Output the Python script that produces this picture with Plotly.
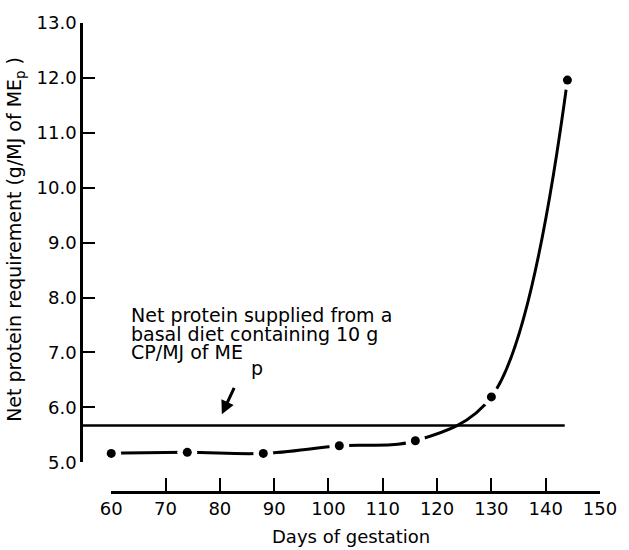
import plotly.graph_objects as go

# ---- data ----
days = [60, 74, 88, 102, 116, 130, 144]
requirement = [5.16, 5.18, 5.16, 5.30, 5.39, 6.19, 11.96]
supply_level = 5.67
supply_days = [54.8, 143.5]
x_ticks = [60, 70, 80, 90, 100, 110, 120, 130, 140, 150]
y_ticks = [5, 6, 7, 8, 9, 10, 11, 12, 13]
y_ticktext = ["5.0", "6.0", "7.0", "8.0", "9.0", "10.0", "11.0", "12.0", "13.0"]

W, H = 629, 550
ML, MR, MT, MB = 83, 21, 15, 58
PW, PH = W - ML - MR, H - MT - MB
X_MIN, X_MAX = 54.8, 150
FONT = "DejaVu Sans"


def px(xp):
    return (xp - ML) / PW


def py(yp):
    return (H - MB - yp) / PH


fig = go.Figure()
fig.add_trace(go.Scatter(x=days, y=requirement, mode="lines",
                         line=dict(color="black", width=3, shape="spline", smoothing=1.0),
                         xaxis="x", yaxis="y", hoverinfo="skip"))
fig.add_trace(go.Scatter(x=supply_days, y=[supply_level, supply_level], mode="lines",
                         line=dict(color="black", width=2.5), xaxis="x", yaxis="y"))
fig.add_trace(go.Scatter(x=days, y=requirement, mode="markers",
                         marker=dict(color="white", size=20), cliponaxis=False,
                         xaxis="x2", yaxis="y", hoverinfo="skip"))
fig.add_trace(go.Scatter(x=days, y=requirement, mode="markers",
                         marker=dict(color="black", size=9), cliponaxis=False,
                         xaxis="x2", yaxis="y"))

y_dom0 = py(461.7)
x2_dom0 = (60 - X_MIN) / (X_MAX - X_MIN)

fig.update_layout(
    width=W, height=H, showlegend=False,
    margin=dict(l=ML, r=MR, t=MT, b=MB),
    paper_bgcolor="white", plot_bgcolor="rgba(0,0,0,0)",
    font=dict(family=FONT, size=18, color="black"),
    xaxis=dict(domain=[0, 1], range=[X_MIN, X_MAX], visible=False, anchor="y"),
    xaxis2=dict(domain=[x2_dom0, 1], range=[60, 150], anchor="free", position=0,
                showline=True, linewidth=2.5, linecolor="black",
                ticks="inside", ticklen=13, tickwidth=2, tickcolor="black",
                tickvals=x_ticks, showgrid=False, zeroline=False,
                tickfont=dict(family=FONT, size=18)),
    yaxis=dict(domain=[y_dom0, 1], range=[5, 13], anchor="x",
               showline=True, linewidth=2.5, linecolor="black",
               ticks="inside", ticklen=12, tickwidth=2, tickcolor="black",
               tickvals=y_ticks, ticktext=y_ticktext, showgrid=False, zeroline=False,
               tickfont=dict(family=FONT, size=18)),
)

ann = [
    dict(text="Net protein supplied from a", x=px(129.3), y=py(312), xanchor="left", yanchor="middle"),
    dict(text="basal diet containing 10 g", x=px(129.3), y=py(331), xanchor="left", yanchor="middle"),
    dict(text="CP/MJ of ME", x=px(129.3), y=py(350), xanchor="left", yanchor="middle"),
    dict(text="p", x=px(251.7), y=py(366), xanchor="left", yanchor="middle"),
]
for a in ann:
    fig.add_annotation(xref="paper", yref="paper", showarrow=False,
                       font=dict(family=FONT, size=19), **a)

fig.add_annotation(xref="paper", yref="paper", x=px(224), y=py(413), text="",
                   showarrow=True, arrowhead=2, arrowsize=0.9, arrowwidth=3,
                   arrowcolor="black", ax=13, ay=-28)

fig.add_annotation(xref="paper", yref="paper", x=px(15), y=py(235.5),
                   text="Net protein requirement (g/MJ of ME<sub>p</sub> )",
                   textangle=-90, showarrow=False, xanchor="center", yanchor="middle",
                   font=dict(family=FONT, size=19))
fig.add_annotation(xref="paper", yref="paper", x=px(355), y=py(537),
                   text="Days of gestation", showarrow=False,
                   xanchor="center", yanchor="middle", font=dict(family=FONT, size=18))

fig.write_html("out.html")
